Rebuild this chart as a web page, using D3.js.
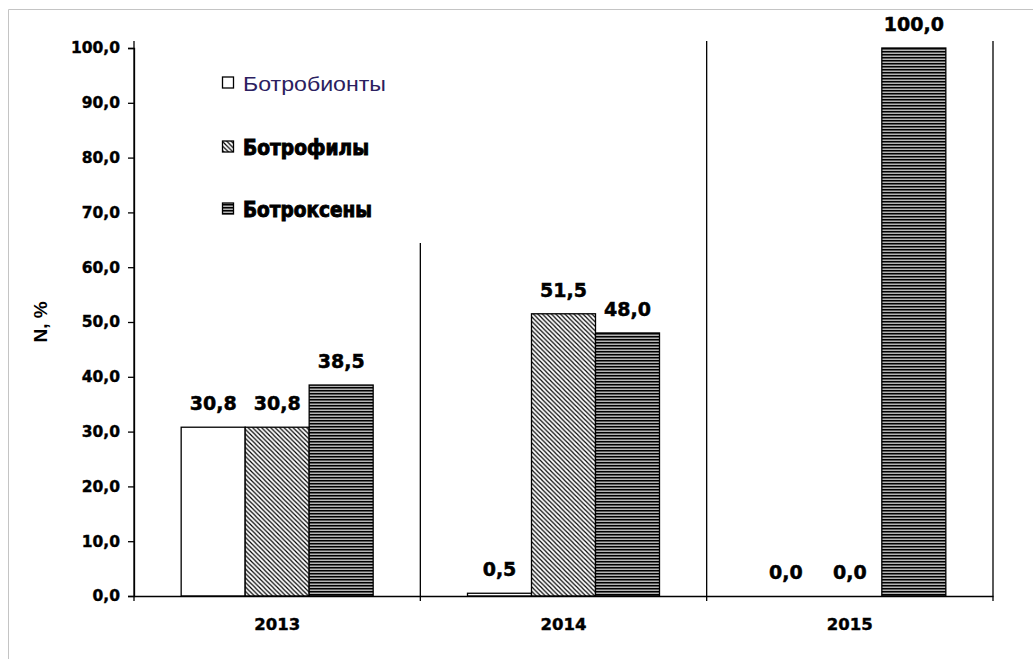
<!DOCTYPE html>
<html>
<head>
<meta charset="utf-8">
<script src="https://cdn.jsdelivr.net/npm/d3@7"></script>
<style>
  body { margin: 0; background: #fff; }
  svg { display: block; }
</style>
</head>
<body>
<svg id="chart" width="1033" height="659"></svg>
<script>
// data
var years = ["2013", "2014", "2015"];
var seriesNames = ["Ботробионты", "Ботрофилы", "Ботроксены"];
var botrobionty = [30.8, 0.5, 0.0];
var botrofily = [30.8, 51.5, 0.0];
var botrokseny = [38.5, 48.0, 100.0];
var yTicks = [0, 10, 20, 30, 40, 50, 60, 70, 80, 90, 100];

var values = [botrobionty, botrofily, botrokseny];

var svg = d3.select("#chart"),
    margin = {top: 48, right: 40, bottom: 63, left: 134},
    width = +svg.attr("width") - margin.left - margin.right,
    height = +svg.attr("height") - margin.top - margin.bottom,
    g = svg.append("g").attr("transform", "translate(" + margin.left + "," + margin.top + ")");

var ru = d3.formatLocale({decimal: ",", thousands: " ", grouping: [3], currency: ["", ""]});
var fmt = ru.format(".1f");

var x = d3.scaleBand().domain(years).range([0, width]).paddingInner(0).paddingOuter(0);
var xs = d3.scaleBand().domain(seriesNames).range([0, x.bandwidth()]).paddingInner(0).paddingOuter(0.737);
var y = d3.scaleLinear().domain([0, 100]).range([height, 0]);

// fill patterns
var defs = svg.append("defs");
var diag = defs.append("pattern")
    .attr("id", "diag")
    .attr("patternUnits", "userSpaceOnUse")
    .attr("width", 4.5).attr("height", 4.5);
diag.append("rect").attr("width", 4.5).attr("height", 4.5).attr("fill", "#fff");
diag.append("path")
    .attr("d", "M-1,-1 L5.5,5.5 M-1,3.5 L1,5.5 M3.5,-1 L5.5,1")
    .attr("stroke", "#000").attr("stroke-width", 1.2);

var horiz = defs.append("pattern")
    .attr("id", "horiz")
    .attr("patternUnits", "userSpaceOnUse")
    .attr("width", 6).attr("height", 3);
horiz.append("rect").attr("width", 6).attr("height", 3).attr("fill", "#b4b4b4");
horiz.append("rect").attr("y", 0).attr("width", 6).attr("height", 1.5).attr("fill", "#000");

var fills = ["#fff", "url(#diag)", "url(#horiz)"];

// outer frame (only top and left visible)
svg.append("path")
    .attr("d", "M8.5,659 L8.5,9.5 L1033,9.5")
    .attr("fill", "none")
    .attr("stroke", "#c4c4c4")
    .attr("stroke-width", 1);

// category separators
var seps = years.map(function(d) { return x(d); }).concat([width]);
g.selectAll(".sep")
    .data(seps)
  .enter().append("line")
    .attr("class", "sep")
    .attr("x1", function(d) { return d; })
    .attr("x2", function(d) { return d; })
    .attr("y1", -7)
    .attr("y2", height + 5)
    .attr("stroke", "#000")
    .attr("stroke-width", 1.3);

// bars
var groups = g.selectAll(".year")
    .data(years)
  .enter().append("g")
    .attr("class", "year")
    .attr("transform", function(d) { return "translate(" + x(d) + ",0)"; });

groups.selectAll("rect")
    .data(function(d, i) { return seriesNames.map(function(s, j) { return {s: s, j: j, v: values[j][i]}; }); })
  .enter().append("rect")
    .attr("x", function(d) { return xs(d.s); })
    .attr("y", function(d) { return y(d.v); })
    .attr("width", xs.bandwidth())
    .attr("height", function(d) { return height - y(d.v); })
    .attr("fill", function(d) { return fills[d.j]; })
    .attr("stroke", "#000")
    .attr("stroke-width", 1.3);

groups.selectAll("text")
    .data(function(d, i) { return seriesNames.map(function(s, j) { return {s: s, j: j, v: values[j][i]}; }); })
  .enter().append("text")
    .attr("x", function(d) { return xs(d.s) + xs.bandwidth() / 2; })
    .attr("y", function(d) { return y(d.v) - 17; })
    .attr("text-anchor", "middle")
    .style("font", "bold 19px 'DejaVu Sans'")
    .style("fill", "#000")
    .style("stroke", "#000")
    .style("stroke-width", 0.5)
    .text(function(d) { return fmt(d.v); });

// axes
g.append("g")
    .attr("class", "axis axis--y")
    .call(d3.axisLeft(y).tickValues(yTicks).tickSize(6).tickPadding(8).tickFormat(fmt))
    .call(function(a) {
      a.select(".domain").attr("stroke-width", 1.3);
      a.selectAll("line").attr("stroke-width", 1.3);
      a.selectAll("text").style("font", "bold 15.5px 'DejaVu Sans'").attr("fill", "#000")
        .style("stroke", "#000").style("stroke-width", 0.4);
    });

g.append("g")
    .attr("class", "axis axis--x")
    .attr("transform", "translate(0," + height + ")")
    .call(d3.axisBottom(x).tickSize(0).tickPadding(22))
    .call(function(a) {
      a.select(".domain").attr("stroke-width", 1.3);
      a.selectAll("text").style("font", "bold 16.5px 'DejaVu Sans'").attr("fill", "#000")
        .style("stroke", "#000").style("stroke-width", 0.4);
    });

// y title
svg.append("text")
    .attr("transform", "translate(47,322) rotate(-90)")
    .attr("text-anchor", "middle")
    .style("font", "bold 19px 'Liberation Sans'")
    .style("fill", "#000")
    .text("N, %");

// legend
var legend = svg.append("g").attr("class", "legend");
legend.append("rect")
    .attr("x", 205).attr("y", 40)
    .attr("width", 235).attr("height", 203)
    .attr("fill", "#fff");

var legRows = [
  {y: 91, font: "21px 'Liberation Sans'", color: "#2b2060", stroke: 0, len: 143},
  {y: 155, font: "bold 21px 'DejaVu Sans Condensed'", color: "#000", stroke: 0.9, len: 126},
  {y: 217, font: "bold 21px 'DejaVu Sans Condensed'", color: "#000", stroke: 0.9, len: 129}
];

var item = legend.selectAll(".item")
    .data(seriesNames)
  .enter().append("g")
    .attr("class", "item");

item.append("rect")
    .attr("x", 222.5)
    .attr("y", function(d, i) { return legRows[i].y - 14; })
    .attr("width", 11).attr("height", 11)
    .attr("fill", function(d, i) { return fills[i]; })
    .attr("stroke", "#000")
    .attr("stroke-width", 1.3);

item.append("text")
    .attr("x", 243)
    .attr("y", function(d, i) { return legRows[i].y; })
    .attr("textLength", function(d, i) { return legRows[i].len; })
    .attr("lengthAdjust", "spacingAndGlyphs")
    .style("font", function(d, i) { return legRows[i].font; })
    .style("fill", function(d, i) { return legRows[i].color; })
    .style("stroke", "#000")
    .style("stroke-width", function(d, i) { return legRows[i].stroke; })
    .text(function(d) { return d; });
</script>
</body>
</html>
